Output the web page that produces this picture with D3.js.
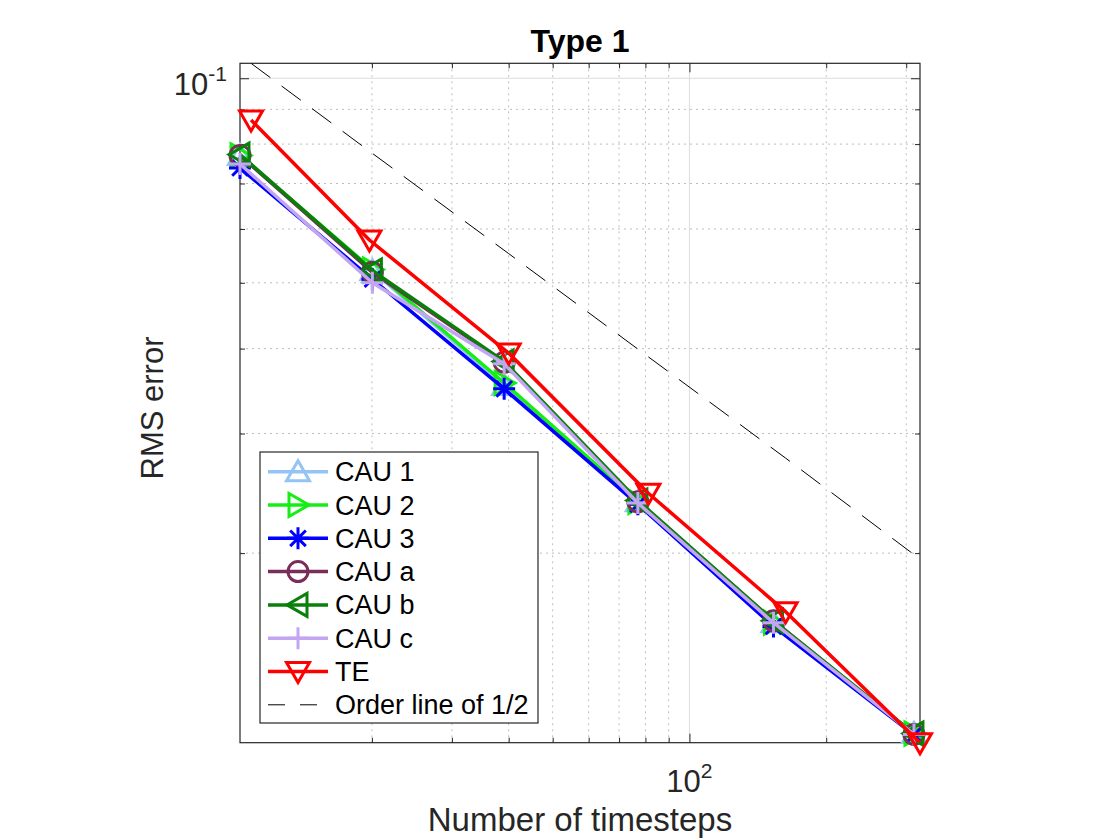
<!DOCTYPE html>
<html><head><meta charset="utf-8">
<script src="https://cdn.jsdelivr.net/npm/d3@7/dist/d3.min.js"></script>
<style>body{margin:0;background:#fff}svg{display:block}</style>
</head><body>
<svg id="chart" width="1120" height="840"></svg>
<script>
// ---- data ----
const seriesNames = ["CAU 1", "CAU 2", "CAU 3", "CAU a", "CAU b", "CAU c", "TE"];
const cauSteps = [10.25, 20.05, 39.1, 77.0, 153.1, 312];
const teSteps  = [10.84, 19.75, 40.0, 81.2, 162.8, 321.7];
const cau1 = [0.0770, 0.0521, 0.0353, 0.0238, 0.0158, 0.01085];
const cau2 = [0.0770, 0.0523, 0.0356, 0.0238, 0.0158, 0.01085];
const cau3 = [0.0738, 0.0506, 0.0349, 0.0236, 0.0156, 0.01080];
const cauA = [0.0770, 0.0518, 0.0382, 0.0238, 0.0159, 0.01082];
const cauB = [0.0772, 0.0521, 0.0383, 0.0239, 0.0159, 0.01085];
const cauC = [0.0748, 0.0500, 0.0380, 0.0237, 0.0158, 0.01082];
const te   = [0.0868, 0.0578, 0.0394, 0.0245, 0.0164, 0.01052];
const orderLine = [0.1052, 0.0781, 0.0552, 0.0389, 0.0276, 0.0196];
const orderLabel = "Order line of 1/2";
const xMajorTicks = [100];
const xMajorExp = ["2"];
const xMinorTicks = [20, 30, 40, 50, 60, 70, 80, 90, 200, 300];
const yMajorTicks = [0.1];
const yMajorExp = ["-1"];
const yMinorTicks = [0.02, 0.03, 0.04, 0.05, 0.06, 0.07, 0.08, 0.09];
const titleText = "Type 1";
const xLabelText = "Number of timesteps";
const yLabelText = "RMS error";

// ---- styling ----
const colors  = ["#94c3f5", "#14ee14", "#0000ff", "#7b2d59", "#0a7f0a", "#c3a6f2", "#ff0000"];
const markers = ["^", ">", "*", "o", "<", "+", "v"];
const seriesY = [cau1, cau2, cau3, cauA, cauB, cauC, te];
const seriesX = [cauSteps, cauSteps, cauSteps, cauSteps, cauSteps, cauSteps, teSteps];

const FONT = "'Liberation Sans', Arial, Helvetica, sans-serif";
const axColor = "#262626";
const L = 240, R = 920, T = 63.3, B = 742.7;

const svg = d3.select("#chart");

const allX = seriesX.flat();
const allY = seriesY.flat().concat(orderLine);
const x = d3.scaleLog().domain(d3.extent(allX)).range([L, R]);
const y = d3.scaleLog().domain(d3.extent(allY)).range([B, T]);

// grid
const grid = svg.append("g");
grid.selectAll(".vmin").data(xMinorTicks).join("line")
  .attr("x1", d => x(d)).attr("x2", d => x(d)).attr("y1", T).attr("y2", B)
  .attr("stroke", "#bdbdbd").attr("stroke-width", 1).attr("stroke-dasharray", "2,4");
grid.selectAll(".hmin").data(yMinorTicks).join("line")
  .attr("y1", d => y(d)).attr("y2", d => y(d)).attr("x1", L).attr("x2", R)
  .attr("stroke", "#bdbdbd").attr("stroke-width", 1).attr("stroke-dasharray", "2,4");
grid.selectAll(".vmaj").data(xMajorTicks).join("line")
  .attr("x1", d => x(d)).attr("x2", d => x(d)).attr("y1", T).attr("y2", B)
  .attr("stroke", "#dcdcdc").attr("stroke-width", 1);
grid.selectAll(".hmaj").data(yMajorTicks).join("line")
  .attr("y1", d => y(d)).attr("y2", d => y(d)).attr("x1", L).attr("x2", R)
  .attr("stroke", "#dcdcdc").attr("stroke-width", 1);

// axes via d3 axis generators (inward ticks, mirrored)
function styleAxis(g) {
  g.select(".domain").remove();
  g.selectAll("line").attr("stroke", axColor).attr("stroke-width", 1);
  g.selectAll("text").remove();
}
svg.append("g").attr("transform", `translate(0,${B})`)
  .call(d3.axisBottom(x).tickValues(xMinorTicks).tickSize(-5)).call(styleAxis);
svg.append("g").attr("transform", `translate(0,${B})`)
  .call(d3.axisBottom(x).tickValues(xMajorTicks).tickSize(-9)).call(styleAxis);
svg.append("g").attr("transform", `translate(0,${T})`)
  .call(d3.axisTop(x).tickValues(xMinorTicks).tickSize(-5)).call(styleAxis);
svg.append("g").attr("transform", `translate(0,${T})`)
  .call(d3.axisTop(x).tickValues(xMajorTicks).tickSize(-9)).call(styleAxis);
svg.append("g").attr("transform", `translate(${L},0)`)
  .call(d3.axisLeft(y).tickValues(yMinorTicks).tickSize(-5)).call(styleAxis);
svg.append("g").attr("transform", `translate(${L},0)`)
  .call(d3.axisLeft(y).tickValues(yMajorTicks).tickSize(-9)).call(styleAxis);
svg.append("g").attr("transform", `translate(${R},0)`)
  .call(d3.axisRight(y).tickValues(yMinorTicks).tickSize(-5)).call(styleAxis);
svg.append("g").attr("transform", `translate(${R},0)`)
  .call(d3.axisRight(y).tickValues(yMajorTicks).tickSize(-9)).call(styleAxis);

// box
svg.append("rect").attr("x", L).attr("y", T).attr("width", R - L).attr("height", B - T)
  .attr("fill", "none").attr("stroke", axColor).attr("stroke-width", 1.2);

// tick labels
svg.selectAll(".xtl").data(xMajorTicks).join("text")
  .attr("x", d => x(d)).attr("y", 791.5).attr("text-anchor", "middle")
  .attr("font-family", FONT).attr("font-size", 31).attr("fill", axColor)
  .each(function (d, i) {
    const t = d3.select(this);
    t.append("tspan").text("10");
    t.append("tspan").attr("dy", -14).attr("font-size", 21).text(xMajorExp[i]);
  });
svg.selectAll(".ytl").data(yMajorTicks).join("text")
  .attr("x", L - 13).attr("y", d => y(d) + 17).attr("text-anchor", "end")
  .attr("font-family", FONT).attr("font-size", 31).attr("fill", axColor)
  .each(function (d, i) {
    const t = d3.select(this);
    t.append("tspan").text("10");
    t.append("tspan").attr("dy", -14).attr("font-size", 21).text(yMajorExp[i]);
  });

// axis labels & title
svg.append("text").attr("x", (L + R) / 2).attr("y", 831).attr("text-anchor", "middle")
  .attr("font-family", FONT).attr("font-size", 33).attr("fill", axColor).text(xLabelText);
svg.append("text").attr("transform", `translate(163,408) rotate(-90)`)
  .attr("text-anchor", "middle")
  .attr("font-family", FONT).attr("font-size", 31).attr("fill", axColor).text(yLabelText);
svg.append("text").attr("x", (L + R) / 2).attr("y", 52).attr("text-anchor", "middle")
  .attr("font-family", FONT).attr("font-size", 32).attr("font-weight", "bold")
  .attr("fill", "#000").text(titleText);

// marker shapes
function markerPath(m) {
  switch (m) {
    case "^": return "M0,-11L11.5,9L-11.5,9Z";
    case "v": return "M-11.5,-9L11.5,-9L0,11Z";
    case ">": return "M-9,-11.5L11,0L-9,11.5Z";
    case "<": return "M9,-11.5L-11,0L9,11.5Z";
    case "+": return "M-11,0H11M0,-11V11";
    case "*": return "M-11,0H11M0,-11V11M-7.8,-7.8L7.8,7.8M-7.8,7.8L7.8,-7.8";
    case "o": return "M10,0A10,10 0 1,1 -10,0A10,10 0 1,1 10,0Z";
  }
}

// clip for lines
svg.append("clipPath").attr("id", "clip").append("rect")
  .attr("x", L).attr("y", T).attr("width", R - L).attr("height", B - T);

const line = d3.line().x(d => x(d[0])).y(d => y(d[1]));

seriesNames.forEach((name, i) => {
  const pts = seriesX[i].map((v, k) => [v, seriesY[i][k]]);
  const g = svg.append("g");
  g.append("path").attr("d", line(pts)).attr("fill", "none")
    .attr("stroke", colors[i]).attr("stroke-width", 3.5).attr("stroke-linejoin", "round")
    .attr("clip-path", "url(#clip)");
  g.selectAll("path.m").data(pts).join("path").attr("class", "m")
    .attr("transform", d => `translate(${x(d[0])},${y(d[1])})`)
    .attr("d", markerPath(markers[i])).attr("fill", "none")
    .attr("stroke", colors[i]).attr("stroke-width", 3).attr("stroke-linejoin", "miter");
});

// order line
const orderPts = teSteps.map((v, k) => [v, orderLine[k]]);
svg.append("path").attr("d", line(orderPts)).attr("fill", "none")
  .attr("stroke", "#000").attr("stroke-width", 1).attr("stroke-dasharray", "24,14")
  .attr("clip-path", "url(#clip)");

// legend
const lg = svg.append("g");
const lgX = 260, lgY = 452, lgW = 278, lgH = 271, rowH = 33.3, row0 = 471.7;
lg.append("rect").attr("x", lgX).attr("y", lgY).attr("width", lgW).attr("height", lgH)
  .attr("fill", "#fff").attr("stroke", axColor).attr("stroke-width", 1.2);
seriesNames.forEach((name, i) => {
  const cy = row0 + i * rowH;
  lg.append("line").attr("x1", 268).attr("x2", 328).attr("y1", cy).attr("y2", cy)
    .attr("stroke", colors[i]).attr("stroke-width", 3.5);
  lg.append("path").attr("transform", `translate(298,${cy})`).attr("d", markerPath(markers[i]))
    .attr("fill", "none").attr("stroke", colors[i]).attr("stroke-width", 3);
  lg.append("text").attr("x", 335).attr("y", cy + 9.5).attr("font-family", FONT)
    .attr("font-size", 27).attr("fill", "#000").text(name);
});
{
  const cy = row0 + seriesNames.length * rowH;
  lg.append("line").attr("x1", 268).attr("x2", 328).attr("y1", cy).attr("y2", cy)
    .attr("stroke", "#000").attr("stroke-width", 1).attr("stroke-dasharray", "17,15");
  lg.append("text").attr("x", 335).attr("y", cy + 9.5).attr("font-family", FONT)
    .attr("font-size", 27).attr("fill", "#000").text(orderLabel);
}
</script>
</body></html>
